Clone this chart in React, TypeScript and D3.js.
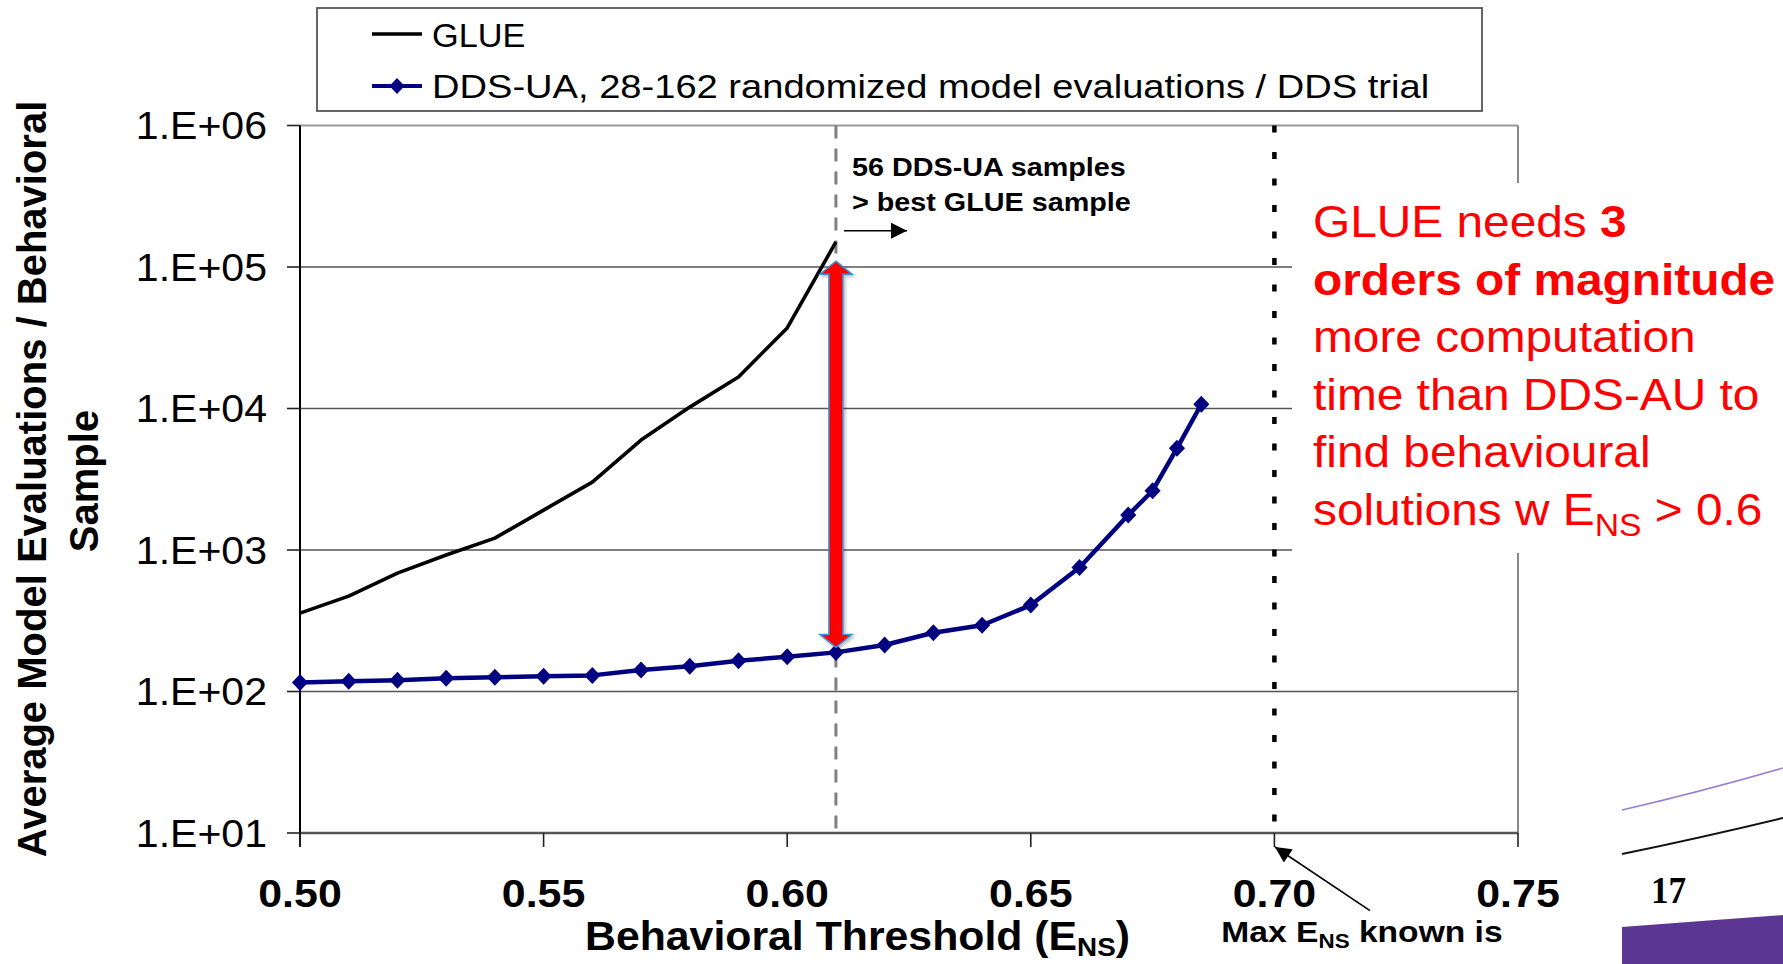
import React from "react";
import * as d3 from "d3";

// ---- data ----
const glueX = [0.5, 0.51, 0.52, 0.53, 0.54, 0.55, 0.56, 0.57, 0.58, 0.59, 0.6, 0.61];
const glueY = [358, 472, 687, 921, 1213, 1914, 3020, 5980, 10230, 16710, 37070, 150300];

const ddsX = [0.5, 0.51, 0.52, 0.53, 0.54, 0.55, 0.56, 0.57, 0.58, 0.59, 0.6, 0.61, 0.62, 0.63, 0.64, 0.65, 0.66, 0.67, 0.675, 0.68, 0.685];
const ddsY = [116, 118, 120, 124, 126, 128, 130, 142, 151, 165, 176, 189, 213, 260, 294, 408, 753, 1766, 2624, 5236, 10715];

const xTicks = [0.5, 0.55, 0.6, 0.65, 0.7, 0.75];
const yTicks = [10, 100, 1000, 10000, 100000, 1000000];
const yTickLabels = ["1.E+01", "1.E+02", "1.E+03", "1.E+04", "1.E+05", "1.E+06"];

const legendLabels = ["GLUE", "DDS-UA, 28-162 randomized model evaluations / DDS trial"];
const markerX = 0.61; // best GLUE sample threshold
const maxKnownX = 0.7;
const arrowTopValue = 110000;

const W = 1783;
const H = 964;
const FONT = "'Liberation Sans', Arial, sans-serif";

const xScale = d3.scaleLinear().domain([0.5, 0.75]).range([300, 1518]);
const yScale = d3.scaleLog().domain([10, 1e6]).range([833, 125.5]);

type TProps = {
  x: number; y: number; sx?: number; anchor?: string; size: number; weight?: string | number;
  fill?: string; family?: string; children: React.ReactNode;
};
function T({ x, y, sx = 1.1, anchor = "start", size, weight = "normal", fill = "#000", family = FONT, children }: TProps) {
  return (
    <text transform={`translate(${x},${y}) scale(${sx},1)`} textAnchor={anchor as any}
      fontSize={size} fontWeight={weight as any} fill={fill} fontFamily={family}>
      {children}
    </text>
  );
}

function diamond(cx: number, cy: number, r: number) {
  return `M${cx},${cy - r}L${cx + r * 0.95},${cy}L${cx},${cy + r}L${cx - r * 0.95},${cy}Z`;
}

export default function App() {
  const line = d3.line<[number, number]>().x((d) => xScale(d[0])).y((d) => yScale(d[1]));
  const glueD = line(glueX.map((x, i) => [x, glueY[i]]) as [number, number][]) || "";
  const ddsD = line(ddsX.map((x, i) => [x, ddsY[i]]) as [number, number][]) || "";

  const [x0, x1] = xScale.range();
  const [yb, yt] = yScale.range();

  // red double arrow
  const ax = xScale(markerX);
  const ddsAt = ddsY[ddsX.indexOf(markerX)];
  const aTop = yScale(arrowTopValue);
  const aBot = yScale(ddsAt) - 5;
  const sw = 7, hw = 16, hl = 13;
  const arrowPath = `M${ax},${aTop}L${ax + hw},${aTop + hl}L${ax + sw},${aTop + hl}L${ax + sw},${aBot - hl}L${ax + hw},${aBot - hl}L${ax},${aBot}L${ax - hw},${aBot - hl}L${ax - sw},${aBot - hl}L${ax - sw},${aTop + hl}L${ax - hw},${aTop + hl}Z`;

  const redLines = 237.3;
  const lh = 57.5;
  const rx = 1313;

  return (
    <svg width={W} height={H} style={{ position: "absolute", left: 0, top: 0, background: "#fff" }}>
      <defs>
        <marker id="ah" viewBox="0 0 10 10" refX="10" refY="5" markerWidth="18" markerHeight="16" markerUnits="userSpaceOnUse" orient="auto">
          <path d="M0,0L10,5L0,10Z" fill="#000" />
        </marker>
        <filter id="sh" x="-50%" y="-10%" width="200%" height="120%">
          <feDropShadow dx="2" dy="2" stdDeviation="1.5" floodColor="#000" floodOpacity="0.25" />
        </filter>
      </defs>
      <rect x={0} y={0} width={W} height={H} fill="#fff" />

      {/* decorative slide elements bottom right */}
      <path d="M1622,810 Q1700,792 1783,768" fill="none" stroke="#9a80cf" strokeWidth={1.5} />
      <path d="M1622,854 Q1700,838 1783,818" fill="none" stroke="#111" strokeWidth={2} />
      <path d="M1622,927 Q1700,921 1783,915 L1783,964 L1622,964 Z" fill="#5c3693" />
      <T x={1651} y={903} size={37} weight="bold" sx={0.95} family="'Liberation Serif', 'Times New Roman', serif">17</T>

      {/* gridlines */}
      {yTicks.slice(1, -1).map((v) => (
        <line key={v} x1={x0} x2={x1} y1={yScale(v)} y2={yScale(v)} stroke="#555" strokeWidth={1.6} />
      ))}
      {/* frame */}
      <line x1={x0} x2={x1} y1={yt} y2={yt} stroke="#999" strokeWidth={2.2} />
      <line x1={x1} x2={x1} y1={yt} y2={yb} stroke="#888" strokeWidth={2} />
      <line x1={x0} x2={x1} y1={yb} y2={yb} stroke="#555" strokeWidth={2.4} />
      <line x1={x0} x2={x0} y1={yt} y2={yb + 14} stroke="#000" strokeWidth={2} />

      {/* ticks */}
      {yTicks.map((v) => (
        <line key={"yt" + v} x1={x0 - 13} x2={x0} y1={yScale(v)} y2={yScale(v)} stroke="#222" strokeWidth={1.6} />
      ))}
      {xTicks.map((v) => (
        <line key={"xt" + v} x1={xScale(v)} x2={xScale(v)} y1={yb} y2={yb + 14} stroke="#222" strokeWidth={1.6} />
      ))}

      {/* reference lines */}
      <line x1={xScale(markerX)} x2={xScale(markerX)} y1={yt} y2={yb} stroke="#808080" strokeWidth={3} strokeDasharray="13,10" />
      <line x1={xScale(maxKnownX)} x2={xScale(maxKnownX)} y1={yt} y2={yb} stroke="#000" strokeWidth={4.5} strokeDasharray="7,19.5" />

      {/* series */}
      <path d={glueD} fill="none" stroke="#000" strokeWidth={3.6} strokeLinejoin="round" />
      <path d={ddsD} fill="none" stroke="#000080" strokeWidth={4.5} strokeLinejoin="round" />
      {ddsX.map((x, i) => (
        <path key={"m" + i} d={diamond(xScale(x), yScale(ddsY[i]), 8.5)} fill="#000080" />
      ))}

      {/* red double arrow */}
      <path d={arrowPath} fill="#ff0000" stroke="#3d8fd9" strokeWidth={1.5} filter="url(#sh)" />

      {/* annotation near best GLUE sample */}
      <T x={852} y={176} size={25} weight="bold" sx={1.15}>56 DDS-UA samples</T>
      <T x={852} y={210.7} size={25} weight="bold" sx={1.15}>&gt; best GLUE sample</T>
      <line x1={844} x2={907} y1={230.7} y2={230.7} stroke="#000" strokeWidth={1.6} markerEnd="url(#ah)" />

      {/* white box behind red text */}
      <rect x={1292} y={183} width={W - 1292} height={370} fill="#fff" />
      <T x={rx} y={redLines} size={44} fill="#ff0000" sx={1.087}>GLUE needs <tspan fontWeight="bold">3</tspan></T>
      <T x={rx} y={redLines + lh} size={44} fill="#ff0000" weight="bold" sx={1.087}>orders of magnitude</T>
      <T x={rx} y={redLines + 2 * lh} size={44} fill="#ff0000" sx={1.087}>more computation</T>
      <T x={rx} y={redLines + 3 * lh} size={44} fill="#ff0000" sx={1.087}>time than DDS-AU to</T>
      <T x={rx} y={redLines + 4 * lh} size={44} fill="#ff0000" sx={1.087}>find behavioural</T>
      <T x={rx} y={redLines + 5 * lh} size={44} fill="#ff0000" sx={1.087}>solutions w E<tspan fontSize={31} dy={11}>NS</tspan><tspan dy={-11}> &gt; 0.6</tspan></T>

      {/* y tick labels */}
      {yTicks.map((v, i) => (
        <T key={"yl" + v} x={267} y={yScale(v) + 13.5} size={38} anchor="end" sx={1.08}>{yTickLabels[i]}</T>
      ))}
      {/* x tick labels */}
      {xTicks.map((v) => (
        <T key={"xl" + v} x={xScale(v)} y={907} size={39} weight="bold" anchor="middle" sx={1.1}>{d3.format(".2f")(v)}</T>
      ))}

      {/* axis titles */}
      <T x={857.5} y={950} size={40} weight="bold" anchor="middle" sx={1.07}>Behavioral Threshold (E<tspan fontSize={26} dy={6}>NS</tspan><tspan dy={-6}>)</tspan></T>
      <g transform="translate(46,479) rotate(-90)">
        <text textAnchor="middle" fontSize={40} fontWeight="bold" fontFamily={FONT}>Average Model Evaluations / Behavioral</text>
      </g>
      <g transform="translate(98,481) rotate(-90)">
        <text textAnchor="middle" fontSize={40} fontWeight="bold" fontFamily={FONT}>Sample</text>
      </g>

      {/* max known annotation */}
      <T x={1362} y={942} size={30} weight="bold" anchor="middle" sx={1.12}>Max E<tspan fontSize={20} dy={6}>NS</tspan><tspan dy={-6}> known is</tspan></T>
      <line x1={1370} y1={910.7} x2={1275} y2={847} stroke="#000" strokeWidth={1.6} markerEnd="url(#ah)" />

      {/* legend */}
      <rect x={317} y={8} width={1165} height={103} fill="#fff" stroke="#555" strokeWidth={1.8} />
      <line x1={372} x2={422} y1={34} y2={34} stroke="#000" strokeWidth={3.5} />
      <T x={432} y={47} size={33} sx={1.04}>{legendLabels[0]}</T>
      <line x1={372} x2={422} y1={86} y2={86} stroke="#000080" strokeWidth={4} />
      <path d={diamond(397, 86, 8)} fill="#000080" />
      <T x={432} y={98} size={33} sx={1.155}>{legendLabels[1]}</T>
    </svg>
  );
}
